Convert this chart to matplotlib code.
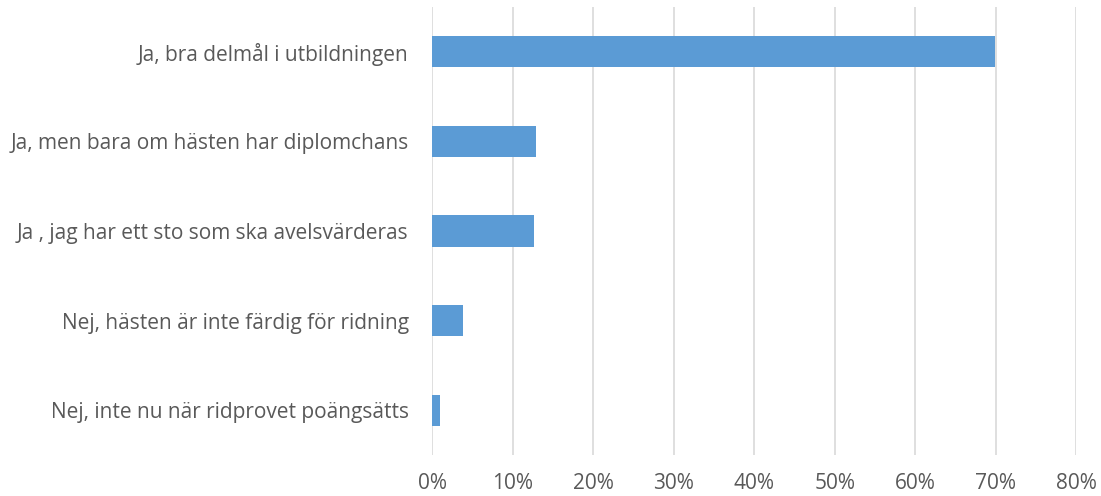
import matplotlib
matplotlib.use("Agg")
import matplotlib.pyplot as plt
from matplotlib.ticker import PercentFormatter

categories = [
    "Ja, bra delmål i utbildningen",
    "Ja, men bara om hästen har diplomchans",
    "Ja , jag har ett sto som ska avelsvärderas",
    "Nej, hästen är inte färdig för ridning",
    "Nej, inte nu när ridprovet poängsätts",
]
values = [69.9, 12.9, 12.6, 3.8, 1.0]
xticks = [0, 10, 20, 30, 40, 50, 60, 70, 80]

plt.rcParams['font.family'] = ['Open Sans', 'DejaVu Sans']
fig = plt.figure(figsize=(11.01, 4.96), dpi=100)
ax = fig.add_axes([0.3926, 0.0827, 0.9776 - 0.3926, 0.9859 - 0.0827])

ypos = list(range(len(categories)))
ax.barh(ypos, values, height=0.35, color='#5b9bd5', zorder=3)
ax.set_ylim(len(categories) - 0.5, -0.5)
ax.set_xlim(0, 80)
ax.set_yticks(ypos)
ax.set_yticklabels(categories)
ax.set_xticks(xticks)
ax.xaxis.set_major_formatter(PercentFormatter(decimals=0))
ax.grid(axis='x', color='#d9d9d9', linewidth=1.2, zorder=0)
for s in ax.spines.values():
    s.set_visible(False)
ax.tick_params(axis='both', length=0, labelsize=15, colors='#595959')
ax.tick_params(axis='y', pad=17)
ax.tick_params(axis='x', pad=13)

fig.savefig("out.png", dpi=100)
